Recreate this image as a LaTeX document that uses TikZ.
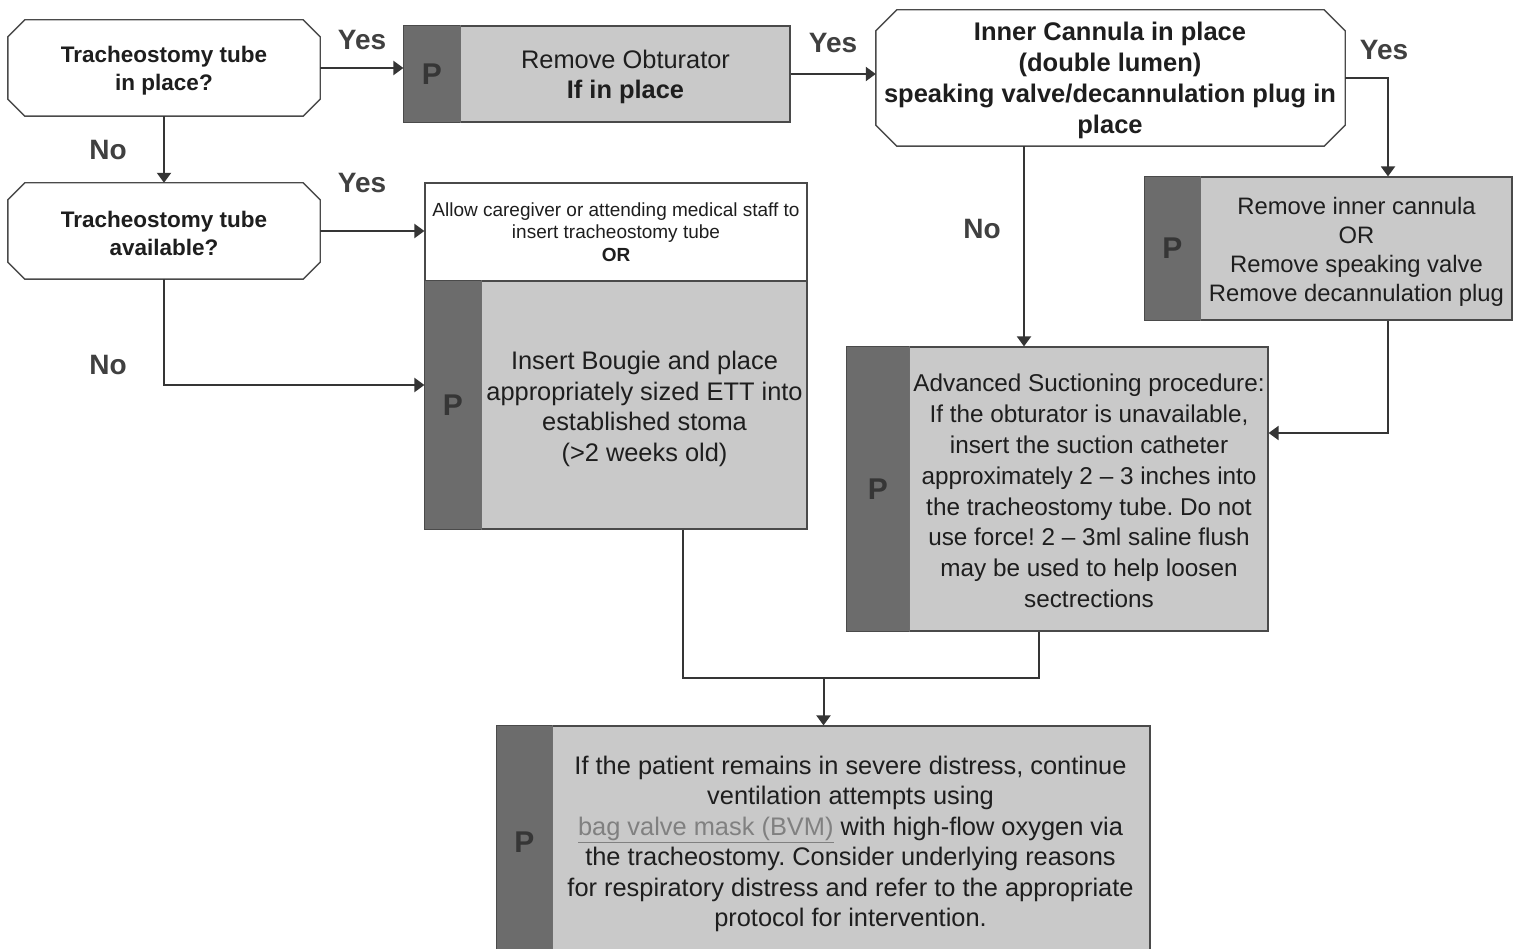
\documentclass[tikz,border=0pt]{standalone}
\usepackage{fontspec}
\setmainfont{Liberation Sans}
\usetikzlibrary{arrows.meta,calc}
\definecolor{boxfill}{HTML}{C9C9C9}
\definecolor{stripfill}{HTML}{6C6C6C}
\definecolor{pcol}{HTML}{363636}
\definecolor{edge}{HTML}{4A4A4A}
\definecolor{txt}{HTML}{1E1E1E}
\definecolor{linkcol}{HTML}{808080}
\newcommand{\drawoct}[2]{%
  \draw[edge, line width=1.4pt] ($(#1.north west)+(#2,0)$) -- ($(#1.north east)+(-#2,0)$)
    -- ($(#1.north east)+(0,#2)$) -- ($(#1.south east)+(0,-#2)$)
    -- ($(#1.south east)+(-#2,0)$) -- ($(#1.south west)+(#2,0)$)
    -- ($(#1.south west)+(0,-#2)$) -- ($(#1.north west)+(0,#2)$) -- cycle;}
\begin{document}
\frenchspacing
\begin{tikzpicture}[x=1pt,y=-1pt,
  decbox/.style={rectangle, inner sep=0pt, text=txt, align=center,
     font=\bfseries\fontsize{22.5}{28}\selectfont},
  procbox/.style={rectangle, draw=edge, line width=1.2pt, fill=boxfill, inner sep=0pt},
  whitebox/.style={rectangle, draw=edge, line width=1.2pt, fill=white, inner sep=0pt, text=txt, align=center,
     font=\fontsize{19}{22.5}\selectfont},
  proctext/.style={text=txt, align=center, inner sep=0pt, font=\fontsize{25.4}{30.8}\selectfont},
  pletter/.style={text=pcol, inner sep=0pt, font=\bfseries\fontsize{30}{30}\selectfont},
  lbl/.style={text=txt!85, inner sep=0pt, font=\bfseries\fontsize{28}{28}\selectfont},
  conn/.style={draw=txt!90, line width=2pt},
  arr/.style={conn, -{Triangle[length=10pt,width=14pt]}}
]
\useasboundingbox[fill=white] (0,0) rectangle (1520,949);

% decisions
\node[decbox, minimum width=312pt, minimum height=96pt] (d1) at (164,68) {};
\drawoct{d1}{17}
\node[decbox] (d1t) at (164,70.5) {Tracheostomy tube\\in place?};
\node[decbox, minimum width=312pt, minimum height=96pt] (d2) at (164,231) {};
\drawoct{d2}{17}
\node[decbox] (d2t) at (164,233) {Tracheostomy tube\\available?};
\node[decbox, minimum width=469pt, minimum height=136pt] (d3) at (1110.5,78) {};
\drawoct{d3}{21}
\node[decbox, font=\bfseries\fontsize{25.5}{31}\selectfont] (d3t) at (1110,80.5)
      {Inner Cannula in place\\(double lumen)\\speaking valve/decannulation plug in\\place};

% process boxes
\node[procbox, minimum width=386pt, minimum height=96pt] (ob) at (597,74) {};
\fill[stripfill] (ob.north west) rectangle ($(ob.south west)+(57,0)$);
\draw[edge, line width=1.2pt] (ob.north west) rectangle (ob.south east);
\draw[edge!80, line width=1pt] ($(ob.north west)+(57,0)$) -- ($(ob.south west)+(57,0)$);
\node[pletter] (obp) at ($(ob.west)+(28.5,0)$) {P};
\node[proctext] (obt) at ($(ob.center)+(28.5,3)$) {Remove Obturator\\\textbf{If in place}};

\node[procbox, minimum width=367pt, minimum height=143pt] (ric) at (1328.5,248.5) {};
\fill[stripfill] (ric.north west) rectangle ($(ric.south west)+(56,0)$);
\draw[edge, line width=1.2pt] (ric.north west) rectangle (ric.south east);
\draw[edge!80, line width=1pt] ($(ric.north west)+(56,0)$) -- ($(ric.south west)+(56,0)$);
\node[pletter] (ricp) at ($(ric.west)+(28,0)$) {P};
\node[proctext, font=\fontsize{23.8}{29}\selectfont] (rict) at ($(ric.center)+(28,3.5)$)
  {Remove inner cannula\\OR\\Remove speaking valve\\Remove decannulation plug};

\node[whitebox, minimum width=382pt, minimum height=98pt] (allow) at (616,232)
  {Allow caregiver or attending medical staff to\\insert tracheostomy tube\\\textbf{OR}};

\node[procbox, minimum width=382pt, minimum height=248pt] (bougie) at (616,405) {};
\fill[stripfill] (bougie.north west) rectangle ($(bougie.south west)+(57,0)$);
\draw[edge, line width=1.2pt] (bougie.north west) rectangle (bougie.south east);
\draw[edge!80, line width=1pt] ($(bougie.north west)+(57,0)$) -- ($(bougie.south west)+(57,0)$);
\node[pletter] (bougiep) at ($(bougie.west)+(28.5,0)$) {P};
\node[proctext] (bougiet) at ($(bougie.center)+(28.5,4)$)
  {Insert Bougie and place\\appropriately sized ETT into\\established stoma\\(>2 weeks old)};

\node[procbox, minimum width=421pt, minimum height=284pt] (adv) at (1057.5,489) {};
\fill[stripfill] (adv.north west) rectangle ($(adv.south west)+(63,0)$);
\draw[edge, line width=1.2pt] (adv.north west) rectangle (adv.south east);
\draw[edge!80, line width=1pt] ($(adv.north west)+(63,0)$) -- ($(adv.south west)+(63,0)$);
\node[pletter] (advp) at ($(adv.west)+(31.5,0)$) {P};
\node[proctext, font=\fontsize{24.3}{30.8}\selectfont] (advt) at ($(adv.center)+(31.5,2)$)
  {Advanced Suctioning procedure:\\If the obturator is unavailable,\\insert the suction catheter\\approximately 2 – 3 inches into\\the tracheostomy tube. Do not\\use force! 2 – 3ml saline flush\\may be used to help loosen\\sectrections};

\node[procbox, minimum width=653pt, minimum height=232pt] (fin) at (823.5,842) {};
\fill[stripfill] (fin.north west) rectangle ($(fin.south west)+(56,0)$);
\draw[edge, line width=1.2pt] (fin.north west) rectangle (fin.south east);
\draw[edge!80, line width=1pt] ($(fin.north west)+(56,0)$) -- ($(fin.south west)+(56,0)$);
\node[pletter] (finp) at ($(fin.west)+(28,0)$) {P};
\node[proctext, font=\fontsize{25.4}{30.4}\selectfont] (fint) at ($(fin.center)+(27,2)$)
  {If the patient remains in severe distress, continue\\ventilation attempts using\\\textcolor{linkcol}{\underline{bag valve mask (BVM)}} with high-flow oxygen via\\the tracheostomy. Consider underlying reasons\\for respiratory distress and refer to the appropriate\\protocol for intervention.};

% connectors
\draw[arr] (d1.east) -- (d1.east -| ob.west);
\draw[arr] (ob.east) -- (ob.east -| d3.west);
\draw[arr] (d1.south) -- (d2.north);
\draw[arr] (d2.east) -- (d2.east -| allow.west);
\draw[arr] (d2.south) |- ([yshift=20pt]bougie.west);
\draw[arr] (d3.east) -| ([xshift=59.5pt]ric.north);
\draw[arr] ([xshift=-86.5pt]d3.south) -- ([xshift=-86.5pt]d3.south |- adv.north);
\draw[arr] ([xshift=59.5pt]ric.south) |- ([yshift=56pt]adv.east);
\coordinate (j) at (823.5,678);
\draw[conn] ([xshift=67pt]bougie.south) |- (j);
\draw[conn] ([xshift=-18.5pt]adv.south) |- (j);
\draw[arr] (j) -- (fin.north);

% labels
\node[lbl] (y1) at (362,40) {Yes};
\node[lbl] (y2) at (833,43) {Yes};
\node[lbl] (y3) at (1384,50) {Yes};
\node[lbl] (y4) at (362,183) {Yes};
\node[lbl] (n1) at (108,150) {No};
\node[lbl] (n2) at (108,365) {No};
\node[lbl] (n3) at (982,229) {No};
\end{tikzpicture}
\end{document}
